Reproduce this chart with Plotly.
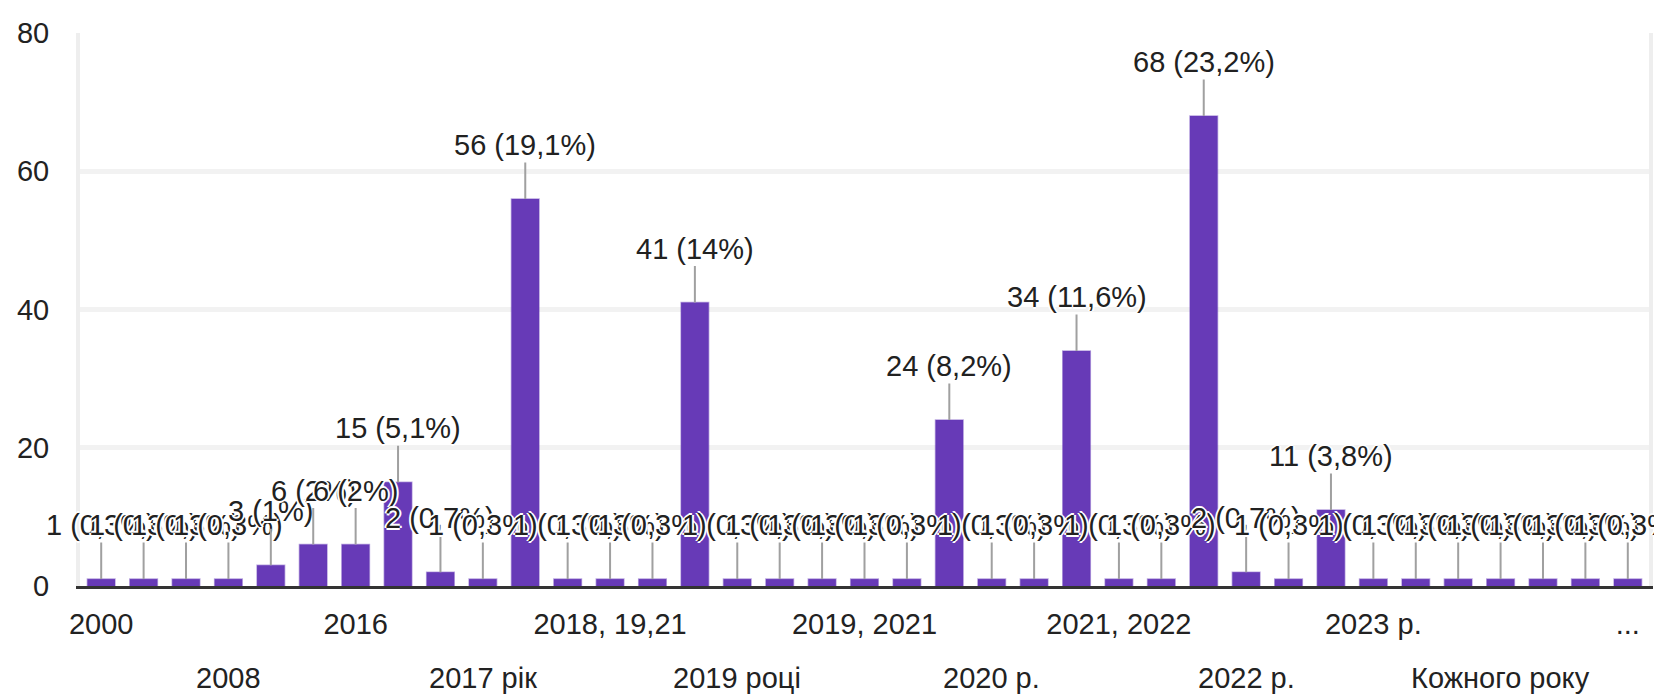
import plotly.graph_objects as go

categories = [
    "2000", "2005", "2007", "2008", "2010", "2015", "2016", "2017", "2017 р.",
    "2017 рік", "2018", "2018 р.", "2018, 19,21", "2018-2019", "2019",
    "2019 році", "2019 рік", "2019, 2020", "2019, 2021", "2019-2020", "2020",
    "2020 р.", "2020 рік", "2021", "2021, 2022", "2021 р.", "2022", "2022 р.",
    "2022 рік", "2023", "2023 р.", "2023 рік", "2024", "Кожного року",
    "Не пам'ятаю", "Щороку", "...",
]
counts = [
    1, 1, 1, 1, 3, 6, 6, 15, 2,
    1, 56, 1, 1, 1, 41,
    1, 1, 1, 1, 1, 24,
    1, 1, 34, 1, 1, 68, 2,
    1, 11, 1, 1, 1, 1,
    1, 1, 1,
]
y_ticks = [0, 20, 40, 60, 80]
label_step = 3  # every third category carries a visible axis label

total = sum(counts)

def pct(v):
    p = round(v * 100.0 / total, 1)
    s = ("%.1f" % p).rstrip("0").rstrip(".")
    return s.replace(".", ",")

labels = [f"{v} ({pct(v)}%)" for v in counts]

FONT = "Liberation Sans, Arial, sans-serif"
FS = 29
PURPLE = "#673ab7"
TXT = "#222222"

idx = list(range(len(categories)))

fig = go.Figure()
fig.add_trace(go.Bar(
    x=idx, y=counts,
    customdata=categories,
    hovertemplate="%{customdata}: %{y}<extra></extra>",
    marker=dict(color=PURPLE, line=dict(color="rgba(103,58,183,0.45)", width=1.5)),
))

tick_idx = idx[::label_step]
row1_idx = tick_idx[0::2]
row2_idx = tick_idx[1::2]

annotations = []
# value labels with leader lines
for i, v, lab in zip(idx, counts, labels):
    annotations.append(dict(
        x=i, y=v, xref="x", yref="y", text=lab,
        showarrow=True, arrowhead=0, arrowwidth=2, arrowcolor="#a0a0a0",
        ax=0, ay=-54, standoff=0,
        font=dict(family=FONT, size=FS, color="#212121",
                  shadow="2px 0 0 #fff, -2px 0 0 #fff, 0 2px 0 #fff, 0 -2px 0 #fff"),
    ))
# second (staggered) row of category labels
for i in row2_idx:
    annotations.append(dict(
        x=i, y=0, xref="x", yref="paper", text=categories[i],
        showarrow=False, yanchor="middle", xanchor="center", yshift=-92,
        font=dict(family=FONT, size=FS, color=TXT),
    ))

fig.update_layout(
    width=1654, height=689,
    margin=dict(l=65, r=9, t=20, b=111),
    paper_bgcolor="white", plot_bgcolor="white",
    bargap=0.35,
    showlegend=False,
    font=dict(family=FONT, size=FS, color=TXT),
    annotations=annotations,
    xaxis=dict(
        tickmode="array", tickvals=row1_idx,
        ticktext=[categories[i] for i in row1_idx],
        tickangle=0,
        showline=True, linecolor="#333333", linewidth=3,
        showgrid=False, zeroline=False, ticks="", ticklabelstandoff=10,
        tickfont=dict(family=FONT, size=FS, color=TXT),
        range=[-0.5, len(categories) - 0.5],
    ),
    yaxis=dict(
        range=[0, 80], tickvals=y_ticks,
        showgrid=True, gridcolor="#f2f2f2", gridwidth=5,
        zeroline=False,
        showline=True, mirror=True, linecolor="#eeeeee", linewidth=4,
        ticks="", ticklabelstandoff=21,
        tickfont=dict(family=FONT, size=FS, color=TXT),
    ),
)

fig.write_html("out.html")
